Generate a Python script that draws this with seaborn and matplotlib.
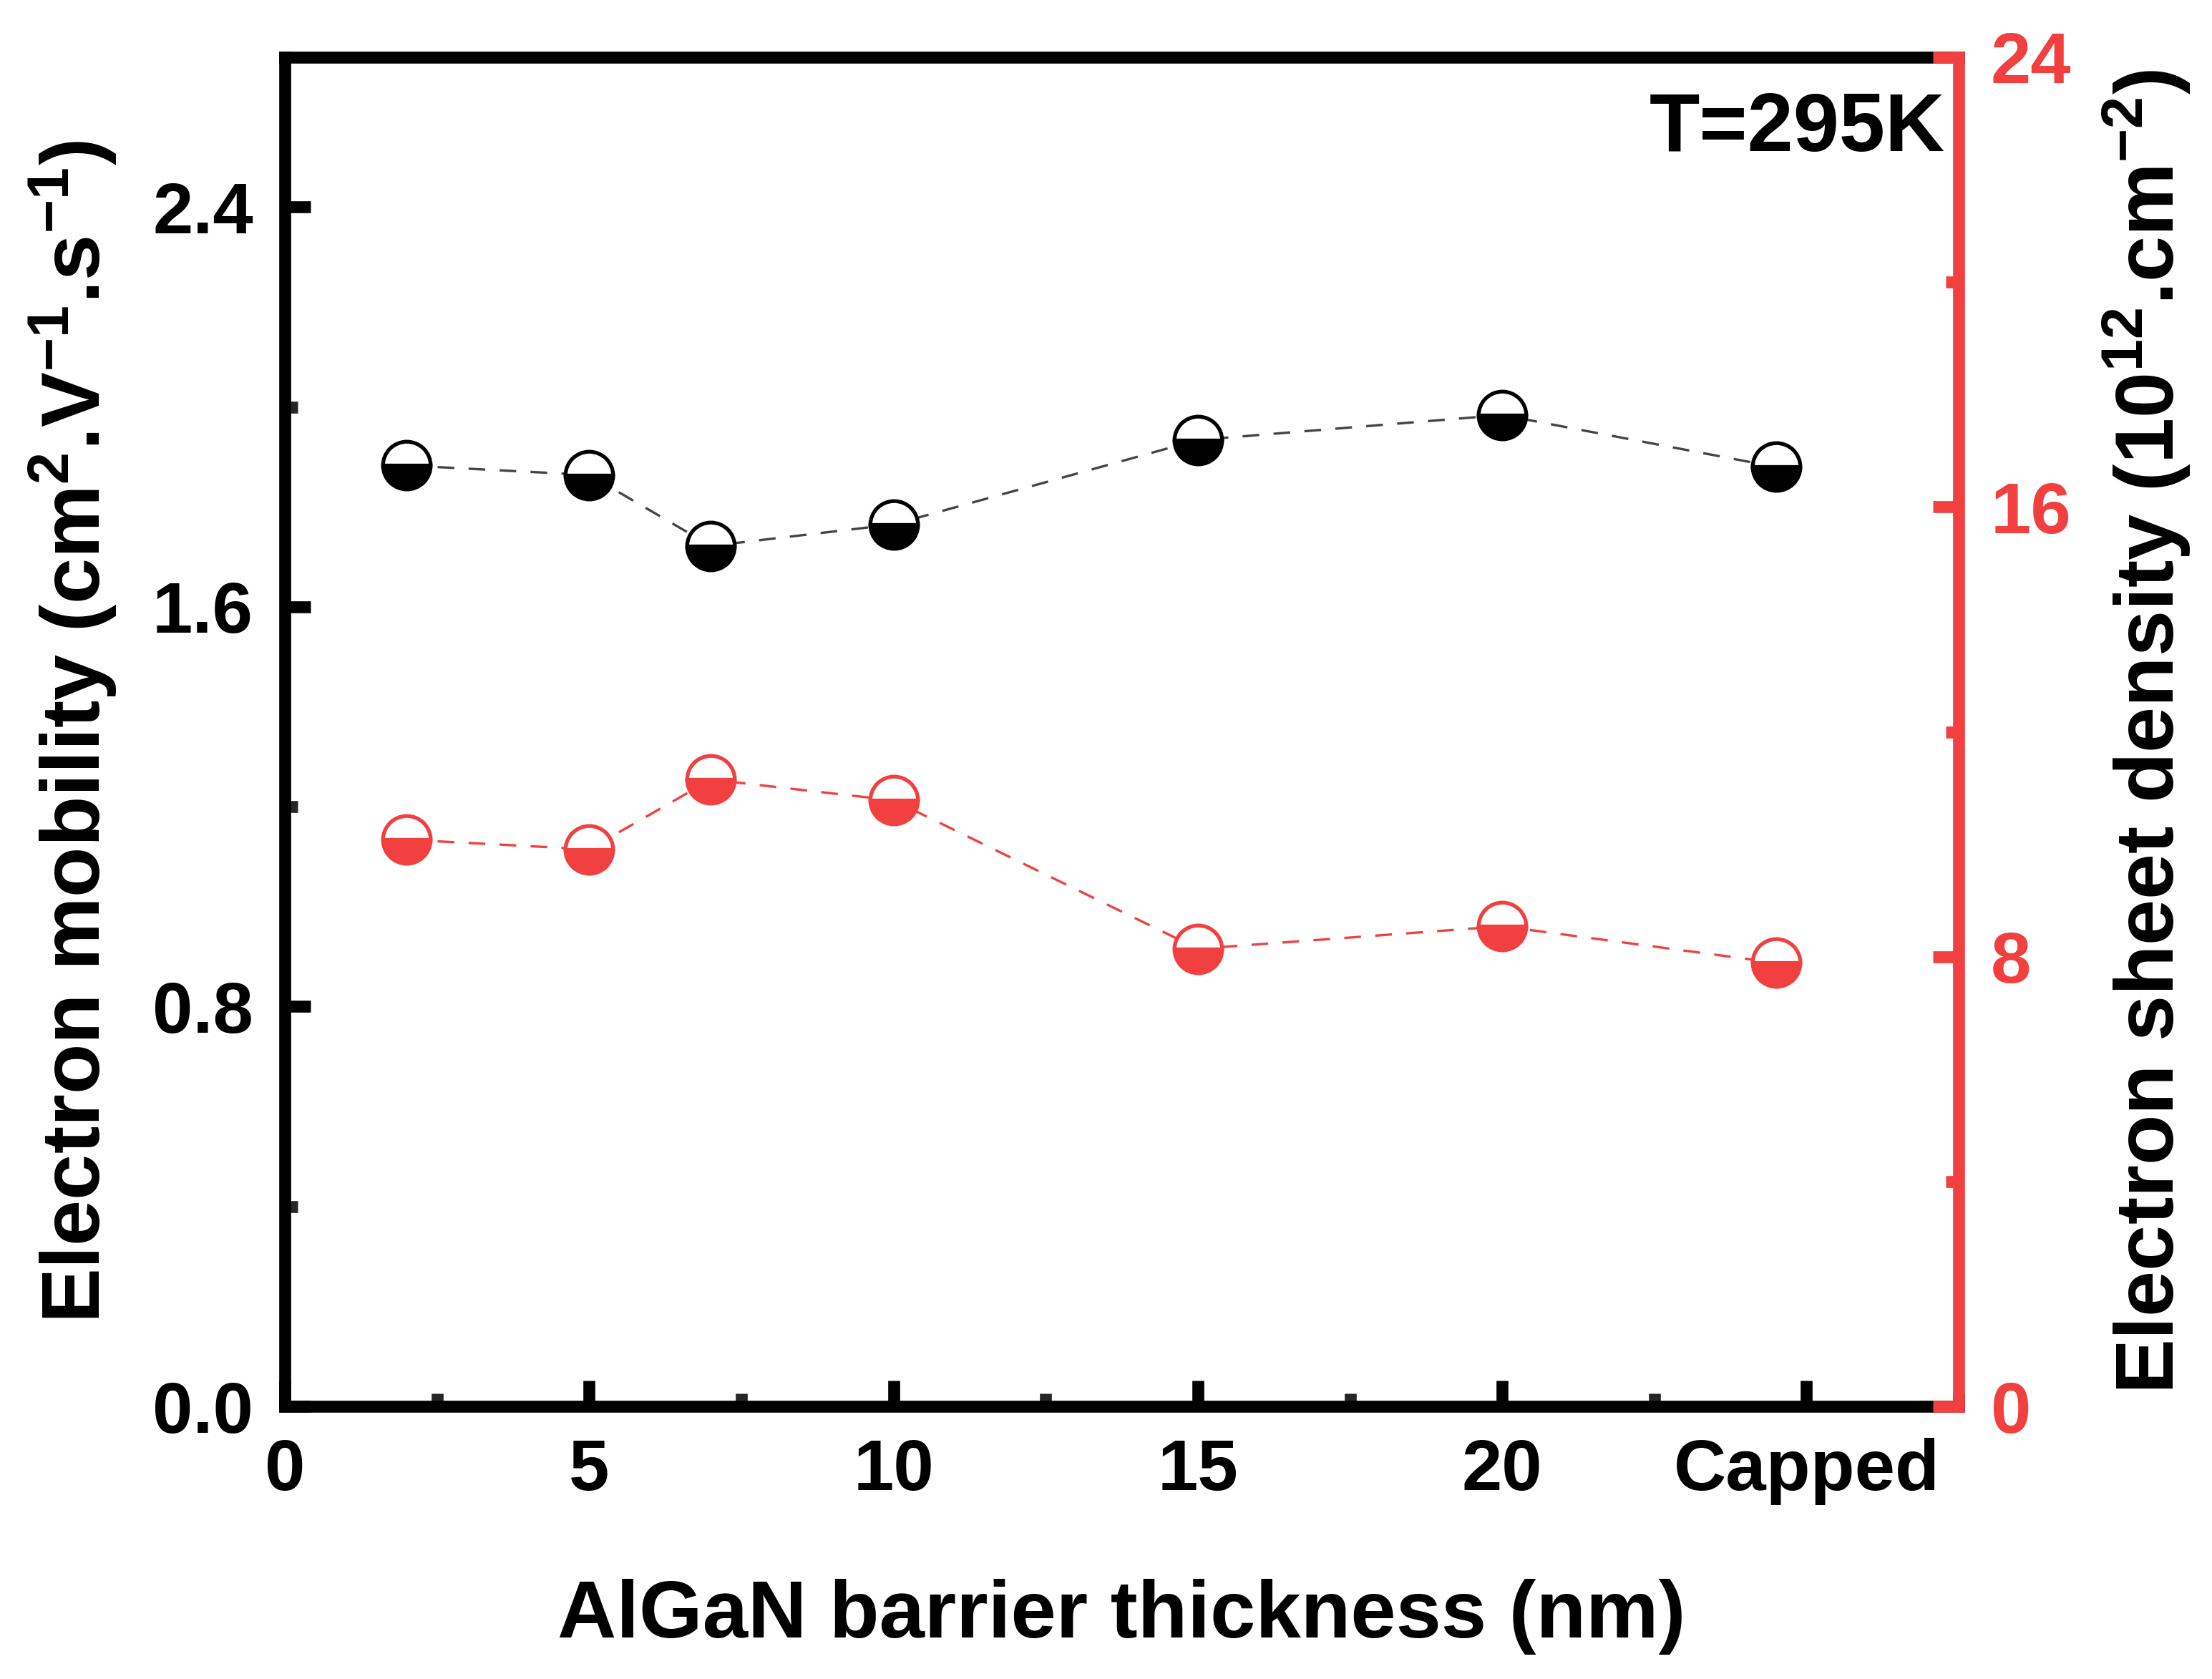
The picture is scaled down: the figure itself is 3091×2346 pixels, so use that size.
import numpy as np
import pandas as pd
import matplotlib
matplotlib.use('Agg')
import matplotlib.pyplot as plt
import seaborn as sns
from matplotlib.ticker import MultipleLocator, FixedLocator

# ---- data ----
thickness = [2, 5, 7, 10, 15, 20, 24.5]          # nm, last point = capped sample
mobility = [1.883, 1.864, 1.722, 1.765, 1.934, 1.984, 1.880]   # left axis
density = [10.08, 9.91, 11.15, 10.78, 8.14, 8.54, 7.89]         # right axis, 1e12 cm^-2

xtick_pos = [0, 5, 10, 15, 20, 25]
xtick_labels = ['0', '5', '10', '15', '20', 'Capped']
left_ticks = [0.0, 0.8, 1.6, 2.4]
right_ticks = [0, 8, 16, 24]

RED = '#F23F3F'
GREY = '#444444'

sns.set_style('ticks')
plt.rcParams['font.family'] = ['Liberation Sans', 'DejaVu Sans']
plt.rcParams['font.weight'] = 'bold'
plt.rcParams['text.color'] = 'black'
plt.rcParams['axes.labelcolor'] = 'black'
plt.rcParams['mathtext.fontset'] = 'custom'
plt.rcParams['mathtext.rm'] = 'Liberation Sans:bold'
plt.rcParams['mathtext.bf'] = 'Liberation Sans:bold'
plt.rcParams['mathtext.it'] = 'Liberation Sans:bold'

fig = plt.figure(figsize=(30.91, 23.46), dpi=100)
ax = fig.add_axes([0.1288, 0.1624, 0.8855 - 0.1288, 0.9659 - 0.1624])
ax2 = ax.twinx()

df = pd.DataFrame({'thickness': thickness, 'mobility': mobility, 'density': density})

common = dict(marker='o', markersize=48, markeredgewidth=3.8, fillstyle='bottom',
              markerfacecoloralt='white', linewidth=2.4, linestyle=(0, (7, 6)))

sns.lineplot(data=df, x='thickness', y='mobility', ax=ax, color=GREY,
             markeredgecolor='black', markerfacecolor='black', **common)
sns.lineplot(data=df, x='thickness', y='density', ax=ax2, color=RED,
             markeredgecolor=RED, markerfacecolor=RED, **common)

ax.set_xlim(0, 27.5)
ax.set_ylim(0, 2.7)
ax2.set_ylim(0, 24)

SPW = 12
for side in ['left', 'bottom', 'top']:
    ax.spines[side].set_linewidth(SPW)
    ax.spines[side].set_color('black')
ax.spines['right'].set_visible(False)
for side in ['left', 'bottom', 'top']:
    ax2.spines[side].set_visible(False)
ax2.spines['right'].set_linewidth(SPW)
ax2.spines['right'].set_color(RED)

ax.xaxis.set_major_locator(FixedLocator(xtick_pos))
ax.set_xticklabels(xtick_labels)
ax.xaxis.set_minor_locator(MultipleLocator(2.5))
ax.yaxis.set_major_locator(FixedLocator(left_ticks))
ax.set_yticklabels([f'{v:.1f}' for v in left_ticks])
ax.yaxis.set_minor_locator(MultipleLocator(0.4))
ax2.yaxis.set_major_locator(FixedLocator(right_ticks))
ax2.set_yticklabels([str(v) for v in right_ticks])
ax2.yaxis.set_minor_locator(MultipleLocator(4))

ax.tick_params(axis='both', which='major', direction='in', length=26, width=12,
               labelsize=73, pad=32, top=False, right=False, colors='black')
ax.tick_params(axis='both', which='minor', direction='in', length=13, width=12,
               top=False, right=False)
ax2.tick_params(axis='y', which='major', direction='in', length=26, width=12,
                labelsize=73, pad=32, colors=RED)
ax2.tick_params(axis='y', which='minor', direction='in', length=13, width=12, colors=RED)

ax.set_xlabel('AlGaN barrier thickness (nm)', fontsize=82, fontweight='bold',
              labelpad=74, color='black')
ax.set_ylabel('Electron mobility (cm$^{2}$.V$^{-1}$.s$^{-1}$)', fontsize=83,
              fontweight='bold', labelpad=34, color='black')
ax2.set_ylabel('Electron sheet density (10$^{12}$.cm$^{-2}$)', fontsize=83,
               fontweight='bold', labelpad=30, rotation=90, color='black')

ax.text(0.992, 0.975, 'T=295K', transform=ax.transAxes, ha='right', va='top',
        fontsize=83, fontweight='bold', color='black')

ax.grid(False)
ax2.grid(False)
fig.savefig('out.png', dpi=100)
